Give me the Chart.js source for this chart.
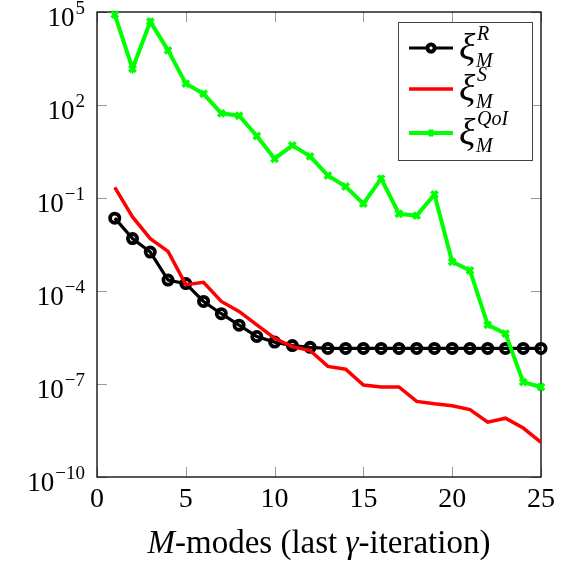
<!DOCTYPE html>
<html>
<head>
<meta charset="utf-8">
<script src="https://cdn.jsdelivr.net/npm/chart.js@4.4.0/dist/chart.umd.min.js"></script>
<style>
  html, body { margin: 0; padding: 0; background: #fff; }
  #wrap { width: 579px; height: 566px; }
</style>
</head>
<body>
<div id="wrap"><canvas id="chart" width="579" height="566"></canvas></div>
<script>
// data
const modes = [1, 2, 3, 4, 5, 6, 7, 8, 9, 10, 11, 12, 13, 14, 15, 16, 17, 18, 19, 20, 21, 22, 23, 24, 25];
const xiR = [0.0224, 4.9e-3, 1.8e-3, 2.25e-4, 1.73e-4, 4.6e-5, 1.85e-5, 7.9e-6, 3.4e-6, 2.25e-6, 1.73e-6, 1.52e-6,
  1.4e-6, 1.4e-6, 1.4e-6, 1.4e-6, 1.4e-6, 1.4e-6, 1.4e-6, 1.4e-6, 1.4e-6, 1.4e-6, 1.4e-6, 1.4e-6, 1.4e-6];
const xiS = [0.22, 0.0245, 4.9e-3, 1.9e-3, 1.6e-4, 1.9e-4, 4.6e-5, 2.2e-5, 8.1e-6, 3e-6, 1.6e-6, 1.2e-6,
  3.7e-7, 3e-7, 9.3e-8, 8e-8, 8e-8, 2.75e-8, 2.3e-8, 2e-8, 1.5e-8, 5.9e-9, 7.9e-9, 3.8e-9, 1.3e-9];
const xiQoI = [8.2e4, 1.48e3, 4.9e4, 5.8e3, 490, 230, 54, 45, 10, 1.85, 5, 2.2, 0.53, 0.235, 0.066, 0.42,
  0.031, 0.027, 0.13, 8.7e-4, 4.6e-4, 8.1e-6, 4.2e-6, 1.15e-7, 8e-8];
const xTickValues = [0, 5, 10, 15, 20, 25];
const yTickValues = [1e-10, 1e-7, 1e-4, 1e-1, 1e2, 1e5];
const legendNames = ['R', 'S', 'QoI'];

const serif = '"Liberation Serif", "DejaVu Serif", serif';

function pts(arr) {
  return arr.map((v, i) => ({ x: modes[i], y: v }));
}

// frame, inward ticks and axis text (pgfplots look)
const framePlugin = {
  id: 'frame',
  beforeDatasetsDraw(chart) {
    const ctx = chart.ctx, a = chart.chartArea;
    const xs = chart.scales.x, ys = chart.scales.y;
    const len = 10;
    ctx.save();
    ctx.strokeStyle = '#999';
    ctx.lineWidth = 1;
    xTickValues.forEach(v => {
      const px = Math.round(xs.getPixelForValue(v)) + 0.5;
      ctx.beginPath();
      ctx.moveTo(px, a.bottom); ctx.lineTo(px, a.bottom - len);
      ctx.moveTo(px, a.top); ctx.lineTo(px, a.top + len);
      ctx.stroke();
    });
    yTickValues.forEach(v => {
      const py = Math.round(ys.getPixelForValue(v)) + 0.5;
      ctx.beginPath();
      ctx.moveTo(a.left, py); ctx.lineTo(a.left + len, py);
      ctx.moveTo(a.right, py); ctx.lineTo(a.right - len, py);
      ctx.stroke();
    });
    ctx.strokeStyle = '#000';
    ctx.lineWidth = 1.3;
    ctx.strokeRect(a.left, a.top, a.right - a.left, a.bottom - a.top);

    ctx.fillStyle = '#000';
    ctx.textBaseline = 'alphabetic';

    // x tick labels
    ctx.textAlign = 'center';
    ctx.font = '28px ' + serif;
    xTickValues.forEach(v => {
      ctx.fillText(String(v), xs.getPixelForValue(v), 507);
    });

    // y tick labels 10^k
    ctx.textAlign = 'right';
    yTickValues.forEach(v => {
      const py = ys.getPixelForValue(v);
      const exp = String(Math.round(Math.log10(v))).replace('-', '\u2212');
      ctx.font = '19px ' + serif;
      const ew = ctx.measureText(exp).width;
      ctx.fillText(exp, 85, py + 2);
      ctx.font = '27px ' + serif;
      ctx.fillText('10', 85 - ew - 1, py + 14);
    });

    // x axis title
    const parts = [
      { t: 'M', f: 'italic 33px ' + serif },
      { t: '-modes (last ', f: '33px ' + serif },
      { t: '\u03b3', f: 'italic 33px ' + serif },
      { t: '-iteration)', f: '33px ' + serif }
    ];
    let total = 0;
    parts.forEach(p => { ctx.font = p.f; p.w = ctx.measureText(p.t).width; total += p.w; });
    let x = (a.left + a.right) / 2 - total / 2;
    ctx.textAlign = 'left';
    parts.forEach(p => { ctx.font = p.f; ctx.fillText(p.t, x, 553); x += p.w; });
    ctx.restore();
  },
  afterDatasetsDraw(chart) {
    const ctx = chart.ctx;
    const box = { x: 398, y: 22, w: 134, h: 138 };
    ctx.save();
    ctx.fillStyle = '#fff';
    ctx.fillRect(box.x, box.y, box.w, box.h);
    ctx.strokeStyle = '#444';
    ctx.lineWidth = 1;
    ctx.strokeRect(box.x + 0.5, box.y + 0.5, box.w, box.h);
    const rows = [48, 89, 133];
    chart.data.datasets.forEach((ds, i) => {
      const y = rows[i];
      ctx.strokeStyle = ds.borderColor;
      ctx.lineWidth = ds.borderWidth;
      ctx.beginPath();
      ctx.moveTo(409, y); ctx.lineTo(453, y);
      ctx.stroke();
      if (ds.pointRadius > 0) {
        Chart.helpers.drawPoint(ctx, {
          pointStyle: ds.pointStyle, radius: ds.pointRadius - 1, borderWidth: ds.pointBorderWidth
        }, 431, y);
        ctx.strokeStyle = ds.borderColor;
        ctx.lineWidth = ds.pointBorderWidth;
        ctx.stroke();
      }
      ctx.fillStyle = '#000';
      ctx.textAlign = 'left';
      ctx.textBaseline = 'alphabetic';
      ctx.font = 'italic 38px ' + serif;
      ctx.fillText('\u03be', 459, y + 12);
      ctx.font = 'italic 20px ' + serif;
      ctx.fillText(legendNames[i], 477, y - 8);
      ctx.fillText('M', 476, y + 19);
    });
    ctx.restore();
  }
};

new Chart(document.getElementById('chart'), {
  type: 'line',
  data: {
    datasets: [
      {
        label: 'xiR', data: pts(xiR), borderColor: '#000', borderWidth: 3.2,
        pointStyle: 'circle', pointRadius: 4.6, pointBorderWidth: 3.8,
        pointBorderColor: '#000', pointBackgroundColor: 'rgba(0,0,0,0)', order: 3, clip: false
      },
      {
        label: 'xiS', data: pts(xiS), borderColor: '#ff0000', borderWidth: 3.5,
        pointRadius: 0, order: 2, clip: false
      },
      {
        label: 'xiQoI', data: pts(xiQoI), borderColor: '#00ff00', borderWidth: 4,
        pointStyle: 'crossRot', pointRadius: 4.5, pointBorderWidth: 3.5,
        pointBorderColor: '#00ff00', order: 1, clip: false
      }
    ]
  },
  options: {
    responsive: false,
    animation: false,
    events: [],
    layout: { padding: { top: 12, right: 38, left: 0, bottom: 0 } },
    plugins: { legend: { display: false }, tooltip: { enabled: false } },
    elements: { line: { tension: 0 } },
    scales: {
      x: {
        type: 'linear', min: 0, max: 25,
        afterBuildTicks: s => { s.ticks = xTickValues.map(v => ({ value: v })); },
        afterFit: s => { s.height = 89; },
        grid: { display: false }, border: { display: false },
        ticks: { display: false }
      },
      y: {
        type: 'logarithmic', min: 1e-10, max: 1e5,
        afterBuildTicks: s => { s.ticks = yTickValues.map(v => ({ value: v })); },
        afterFit: s => { s.width = 97; },
        grid: { display: false }, border: { display: false },
        ticks: { display: false }
      }
    }
  },
  plugins: [framePlugin]
});
</script>
</body>
</html>
